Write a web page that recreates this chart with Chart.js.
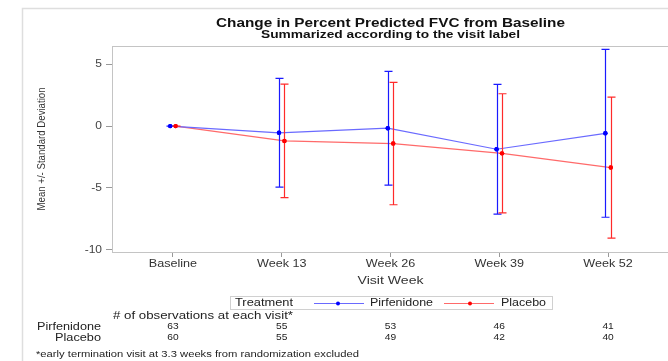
<!DOCTYPE html>
<html>
<head>
<meta charset="utf-8">
<script src="https://cdn.jsdelivr.net/npm/chart.js@4"></script>
<style>
  html, body { margin: 0; padding: 0; background: #fff; overflow: hidden; }
  #wrap { position: absolute; left: 0; top: 0; width: 680px; height: 361px; }
</style>
</head>
<body>
<div id="wrap"><canvas id="c" width="680" height="361"></canvas></div>
<script>
// Visits along the x axis
const categories = ['Baseline', 'Week 13', 'Week 26', 'Week 39', 'Week 52'];
const yTickValues = [-10, -5, 0, 5];

// Change in percent predicted FVC: mean and standard deviation per visit
const pirfMean = [0, -0.54, -0.17, -1.87, -0.58];
const pirfSD   = [0, 4.40, 4.60, 5.25, 6.79];
const placMean = [0, -1.20, -1.41, -2.20, -3.35];
const placSD   = [0, 4.59, 4.95, 4.82, 5.70];

// Number of observations at each visit
const pirfCounts = [63, 55, 53, 46, 41];
const placCounts = [60, 55, 49, 42, 40];

const seriesNames = ['Pirfenidone', 'Placebo'];
const DODGE = 0.025; // small side-by-side shift so the two groups don't overlap

const FONT = '"Liberation Sans", Arial, sans-serif';
const WIDE = 1.2;    // the whole figure uses horizontally extended lettering

function pts(means, shift) {
  return means.map((m, i) => ({ x: i + shift, y: m }));
}

// Draws text stretched horizontally, either by a fixed factor or to fill a width.
function wideText(ctx, text, x, y, align, width) {
  const natural = ctx.measureText(text).width;
  const sx = width ? width / natural : WIDE;
  const w = natural * sx;
  let x0 = x;
  if (align === 'center') x0 = x - w / 2;
  else if (align === 'right') x0 = x - w;
  ctx.save();
  ctx.textAlign = 'left';
  ctx.translate(x0, y);
  ctx.scale(sx, 1);
  ctx.fillText(text, 0, 0);
  ctx.restore();
}

const errorBars = {
  id: 'errorBars',
  afterDatasetsDraw(chart) {
    const { ctx, scales: { x, y } } = chart;
    chart.data.datasets.forEach((ds, di) => {
      const meta = chart.getDatasetMeta(di);
      ctx.save();
      ctx.strokeStyle = ds.barColor;
      ctx.lineWidth = 1.2;
      ds.data.forEach((p, i) => {
        const sd = ds.sd[i];
        const px = Math.round(x.getPixelForValue(p.x)) + 0.5;
        const top = y.getPixelForValue(p.y + sd);
        const bot = y.getPixelForValue(p.y - sd);
        ctx.beginPath();
        ctx.moveTo(px, top); ctx.lineTo(px, bot);
        ctx.moveTo(px - 4, top); ctx.lineTo(px + 4, top);
        ctx.moveTo(px - 4, bot); ctx.lineTo(px + 4, bot);
        ctx.stroke();
      });
      ctx.restore();
      meta.data.forEach(el => el.draw(ctx));
    });
  }
};

const decorations = {
  id: 'decorations',
  beforeDraw(chart) {
    const { ctx } = chart;
    ctx.save();
    // outer frame
    ctx.strokeStyle = '#dedede';
    ctx.lineWidth = 1.5;
    ctx.strokeRect(22.5, 8.5, 700, 400);
    ctx.restore();
  },
  afterDraw(chart) {
    const { ctx, chartArea: a, scales: { x, y } } = chart;
    const cx = (a.left + a.right) / 2;
    ctx.save();
    // plot frame
    ctx.strokeStyle = '#c4c4c4';
    ctx.lineWidth = 1;
    ctx.strokeRect(a.left + 0.5, a.top + 0.5, a.right - a.left, a.bottom - a.top);

    ctx.textBaseline = 'middle';

    // tick labels
    ctx.fillStyle = '#444';
    ctx.font = '10px ' + FONT;
    y.ticks.forEach(t => wideText(ctx, String(t.value), a.left - 10, y.getPixelForValue(t.value), 'right'));
    ctx.fillStyle = '#333';
    ctx.font = '10.5px ' + FONT;
    x.ticks.forEach(t => wideText(ctx, categories[t.value], x.getPixelForValue(t.value), 264, 'center'));

    // titles
    ctx.fillStyle = '#111';
    ctx.font = 'bold 12.5px ' + FONT;
    wideText(ctx, 'Change in Percent Predicted FVC from Baseline', cx, 23.5, 'center', 349);
    ctx.font = 'bold 10.5px ' + FONT;
    wideText(ctx, 'Summarized according to the visit label', cx, 35.5, 'center', 259);

    // y axis title, condensed along its length
    ctx.save();
    ctx.translate(42, (a.top + a.bottom) / 2);
    ctx.rotate(-Math.PI / 2);
    ctx.font = '11px ' + FONT;
    ctx.fillStyle = '#333';
    wideText(ctx, 'Mean +/- Standard Deviation', 0, 0, 'center', 123);
    ctx.restore();

    // x axis title
    ctx.font = '11.5px ' + FONT;
    ctx.fillStyle = '#333';
    wideText(ctx, 'Visit Week', cx, 280.5, 'center', 66);

    // legend
    const ds = chart.data.datasets;
    ctx.strokeStyle = '#d0d0d0';
    ctx.lineWidth = 1;
    ctx.strokeRect(230.5, 296.5, 322, 13);
    ctx.font = '10px ' + FONT;
    ctx.fillStyle = '#222';
    wideText(ctx, 'Treatment', 235, 303.5, 'left', 58);
    const items = [
      { x0: 314, x1: 364, dot: 338, tx: 370, w: 63 },
      { x0: 444, x1: 494, dot: 470, tx: 501, w: 45 }
    ];
    items.forEach((it, i) => {
      ctx.strokeStyle = ds[i].borderColor;
      ctx.beginPath();
      ctx.moveTo(it.x0, 303.5); ctx.lineTo(it.x1, 303.5);
      ctx.stroke();
      ctx.fillStyle = ds[i].pointBackgroundColor;
      ctx.beginPath();
      ctx.arc(it.dot, 303.5, 2, 0, Math.PI * 2);
      ctx.fill();
      ctx.fillStyle = '#222';
      wideText(ctx, ds[i].label, it.tx, 303.5, 'left', it.w);
    });

    // observation counts table
    ctx.font = '10px ' + FONT;
    ctx.fillStyle = '#222';
    wideText(ctx, '# of observations at each visit*', 203, 316, 'center', 180);
    wideText(ctx, seriesNames[0], 101, 327, 'right', 64);
    wideText(ctx, seriesNames[1], 101, 338, 'right', 46);
    ctx.font = '8.5px ' + FONT;
    categories.forEach((c, i) => {
      const px = x.getPixelForValue(i);
      wideText(ctx, String(pirfCounts[i]), px, 327, 'center');
      wideText(ctx, String(placCounts[i]), px, 338, 'center');
    });

    // footnote
    ctx.font = '8.5px ' + FONT;
    wideText(ctx, '*early termination visit at 3.3 weeks from randomization excluded', 36, 355, 'left', 323);
    ctx.restore();
  }
};

new Chart(document.getElementById('c'), {
  type: 'line',
  data: {
    datasets: [
      {
        label: seriesNames[0],
        data: pts(pirfMean, -DODGE),
        sd: pirfSD,
        borderColor: '#6a6aff',
        barColor: '#1a1aff',
        pointBackgroundColor: '#0000ff',
        pointBorderWidth: 0,
        pointRadius: 2.2,
        borderWidth: 1.2,
        order: 1
      },
      {
        label: seriesNames[1],
        data: pts(placMean, DODGE),
        sd: placSD,
        borderColor: '#ff6a6a',
        barColor: '#ff2a2a',
        pointBackgroundColor: '#ff0000',
        pointBorderWidth: 0,
        pointRadius: 2.2,
        borderWidth: 1.2,
        order: 2
      }
    ]
  },
  options: {
    responsive: false,
    animation: false,
    devicePixelRatio: 1,
    layout: { padding: { top: 46, right: 11, left: 0, bottom: 0 } },
    plugins: { legend: { display: false }, tooltip: { enabled: false }, title: { display: false } },
    scales: {
      x: {
        type: 'linear',
        min: -0.56,
        max: 4.56,
        afterFit(s) { s.height = 109; },
        afterBuildTicks(s) { s.ticks = categories.map((c, i) => ({ value: i })); },
        grid: { drawOnChartArea: false, drawTicks: true, tickLength: 5, color: '#999' },
        border: { display: true, color: '#c4c4c4' },
        ticks: { display: false }
      },
      y: {
        min: -10.18,
        max: 6.48,
        afterFit(s) { s.width = 112; },
        afterBuildTicks(s) { s.ticks = yTickValues.map(v => ({ value: v })); },
        grid: { drawOnChartArea: false, drawTicks: true, tickLength: 6, color: '#999' },
        border: { display: true, color: '#c4c4c4' },
        ticks: { display: false }
      }
    }
  },
  plugins: [errorBars, decorations]
});
</script>
</body>
</html>
